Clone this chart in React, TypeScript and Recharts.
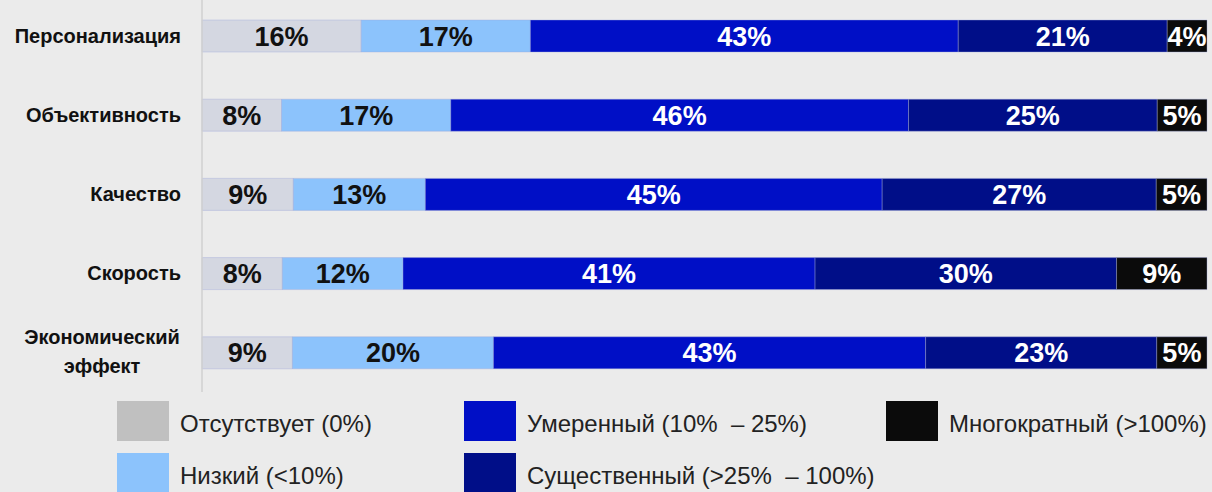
import { BarChart, Bar, XAxis, YAxis, LabelList } from 'recharts';

// Survey shares by effect category, % of respondents
const categories = ['Персонализация', 'Объективность', 'Качество', 'Скорость', 'Экономический эффект'];
const absent = [16, 8, 9, 8, 9];
const low = [17, 17, 13, 12, 20];
const moderate = [43, 46, 45, 41, 43];
const significant = [21, 25, 27, 30, 23];
const multiple = [4, 5, 5, 9, 5];

const seriesNames = [
  'Отсутствует (0%)',
  'Низкий (<10%)',
  'Умеренный (10%  – 25%)',
  'Существенный (>25%  – 100%)',
  'Многократный (>100%)',
];

const data = categories.map((name, i) => ({
  name,
  absent: absent[i],
  low: low[i],
  moderate: moderate[i],
  significant: significant[i],
  multiple: multiple[i],
}));

const series = [
  { key: 'absent', color: '#d4d7e1', legend: '#c0c0c0', text: '#111' },
  { key: 'low', color: '#8cc3fc', legend: '#8cc3fc', text: '#111' },
  { key: 'moderate', color: '#000fc6', legend: '#000fc6', text: '#fff' },
  { key: 'significant', color: '#000e88', legend: '#000e88', text: '#fff' },
  { key: 'multiple', color: '#0b0b0b', legend: '#0b0b0b', text: '#fff' },
];

const FONT = '"Liberation Sans", Arial, sans-serif';

const CategoryTick = ({ x, y, payload }: any) => {
  const words = String(payload.value).split(' ');
  if (words.length === 1) {
    return (
      <text x={x - 13} y={y} dy={7} textAnchor="end" fontFamily={FONT} fontWeight="bold" fontSize={20} fill="#111">
        {payload.value}
      </text>
    );
  }
  return (
    <text x={x - 92} y={y} textAnchor="middle" fontFamily={FONT} fontWeight="bold" fontSize={20} fill="#111">
      <tspan x={x - 92} dy={-8}>{words[0]}</tspan>
      <tspan x={x - 92} dy={29}>{words[1]}</tspan>
    </text>
  );
};

// legend placement: column / row per series
const legendPos = [
  { left: 117, top: 401 },
  { left: 117, top: 453 },
  { left: 464, top: 401 },
  { left: 464, top: 453 },
  { left: 886, top: 401 },
];

export default function App() {
  return (
    <div style={{ position: 'absolute', left: 0, top: 0, width: 1212, height: 492, background: '#ebebeb', overflow: 'hidden' }}>
      <div style={{ position: 'absolute', left: 0, top: -4 }}>
        <BarChart
          width={1212}
          height={396}
          data={data}
          layout="vertical"
          stackOffset="expand"
          margin={{ top: 0, right: 5, bottom: 0, left: 0 }}
        >
          <XAxis type="number" hide domain={[0, 1]} />
          <YAxis
            type="category"
            dataKey="name"
            width={202}
            axisLine={{ stroke: '#d0d0d0', strokeWidth: 1.5 }}
            tickLine={false}
            tick={<CategoryTick />}
            interval={0}
          />
          {series.map((s) => (
            <Bar
              key={s.key}
              dataKey={s.key}
              stackId="a"
              fill={s.color}
              barSize={32}
              stroke="#9ea6d8"
              strokeWidth={0.4}
              isAnimationActive={false}
            >
              <LabelList
                dataKey={s.key}
                position="center"
                formatter={(v: any) => `${v}%`}
                fill={s.text}
                fontFamily={FONT}
                fontWeight="bold"
                fontSize={27}
              />
            </Bar>
          ))}
        </BarChart>
      </div>
      {series.map((s, i) => (
        <div
          key={s.key}
          style={{ position: 'absolute', left: legendPos[i].left, top: legendPos[i].top, display: 'flex', alignItems: 'center' }}
        >
          <div style={{ width: 52, height: 40, background: s.legend }} />
          <span style={{ marginLeft: 11, marginTop: 6, fontFamily: FONT, fontSize: 24, color: '#222', whiteSpace: 'pre' }}>
            {seriesNames[i]}
          </span>
        </div>
      ))}
    </div>
  );
}
